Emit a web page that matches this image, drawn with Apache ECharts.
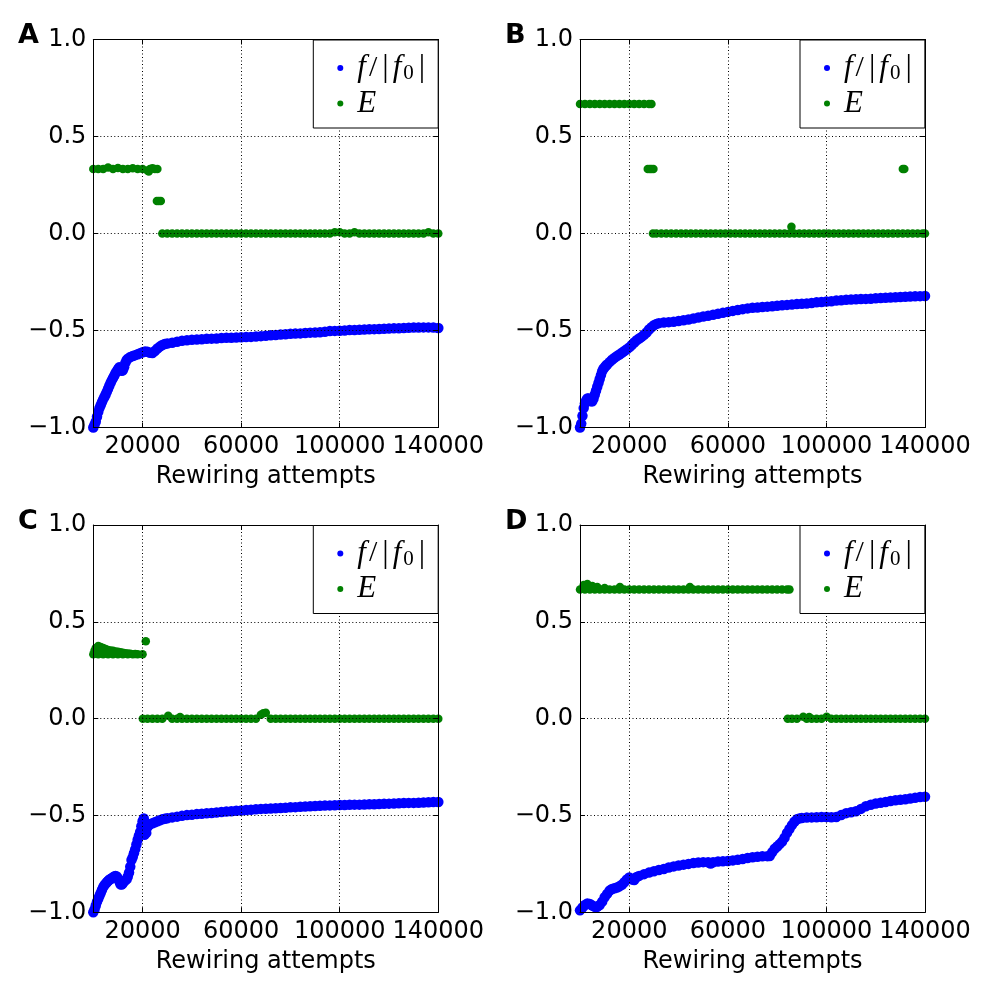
<!DOCTYPE html>
<html>
<head>
<meta charset="utf-8">
<script src="https://cdn.jsdelivr.net/npm/echarts@6/dist/echarts.min.js"></script>
<style>
  html, body { margin: 0; padding: 0; background: #fff; }
  #chart { width: 1000px; height: 1000px; }
</style>
</head>
<body>
<div id="chart"></div>
<script>
// tick positions
const xTicks = [20000, 60000, 100000, 140000]
const panelLetters = ['A', 'B', 'C', 'D']

// panel A
const fA = [
  [0, -1.0], [500, -0.985], [1000, -0.97], [1500, -0.945], [2000, -0.92], [2500, -0.9], [3000, -0.885],
  [3500, -0.87], [4000, -0.855], [4500, -0.843], [5000, -0.83], [5500, -0.815], [6000, -0.8], [6500, -0.785],
  [7000, -0.77], [7500, -0.757], [8000, -0.745], [8500, -0.733], [9000, -0.72], [9500, -0.71], [10000, -0.7],
  [10500, -0.69], [11000, -0.698], [11500, -0.708], [12000, -0.705], [12500, -0.69], [13000, -0.667],
  [13500, -0.653], [14000, -0.645], [15000, -0.637], [16000, -0.632], [17000, -0.627], [18000, -0.622],
  [19000, -0.617], [20000, -0.612], [21000, -0.608], [22000, -0.61], [23000, -0.615], [24000, -0.616],
  [25000, -0.606], [26000, -0.593], [27000, -0.583], [28000, -0.575], [29000, -0.57], [30000, -0.567],
  [32000, -0.563], [34000, -0.558], [36000, -0.553], [38000, -0.55], [40000, -0.548], [42000, -0.546],
  [44000, -0.545], [46000, -0.543], [48000, -0.542], [50000, -0.541], [52000, -0.539], [54000, -0.538],
  [56000, -0.537], [58000, -0.536], [60000, -0.535], [62000, -0.534], [64000, -0.533], [66000, -0.531],
  [68000, -0.529], [70000, -0.527], [72000, -0.525], [74000, -0.523], [76000, -0.521], [78000, -0.519],
  [80000, -0.517], [82000, -0.516], [84000, -0.515], [86000, -0.513], [88000, -0.511], [90000, -0.51],
  [92000, -0.509], [94000, -0.506], [96000, -0.503], [98000, -0.502], [100000, -0.501], [102000, -0.5],
  [104000, -0.498], [106000, -0.497], [108000, -0.496], [110000, -0.495], [112000, -0.494], [114000, -0.493],
  [116000, -0.492], [118000, -0.491], [120000, -0.49], [122000, -0.489], [124000, -0.488], [126000, -0.487],
  [128000, -0.486], [130000, -0.485], [132000, -0.485], [134000, -0.484], [136000, -0.484], [138000, -0.485],
  [140000, -0.487]
]
const eA = [
  [0, 0.333], [2000, 0.333], [4000, 0.333], [6000, 0.34], [8000, 0.333], [10000, 0.338], [12000, 0.333],
  [14000, 0.333], [16000, 0.336], [18000, 0.333], [20000, 0.333], [22000, 0.325], [22500, 0.32],
  [23000, 0.333], [24000, 0.336], [25000, 0.333], [26000, 0.333],
  [25800, 0.167], [26600, 0.167], [27400, 0.167],
  [28000, 0], [30000, 0], [32000, 0], [34000, 0], [36000, 0], [38000, 0], [40000, 0], [42000, 0],
  [44000, 0], [46000, 0], [48000, 0], [50000, 0], [52000, 0], [54000, 0], [56000, 0], [58000, 0],
  [60000, 0], [62000, 0], [64000, 0], [66000, 0], [68000, 0], [70000, 0], [72000, 0], [74000, 0],
  [76000, 0], [78000, 0], [80000, 0], [82000, 0], [84000, 0], [86000, 0], [88000, 0], [90000, 0],
  [92000, 0], [94000, 0], [96000, 0], [98000, 0.006], [100000, 0.006], [102000, 0], [104000, 0],
  [106000, 0.006], [108000, 0], [110000, 0], [112000, 0], [114000, 0], [116000, 0], [118000, 0],
  [120000, 0], [122000, 0], [124000, 0], [126000, 0], [128000, 0], [130000, 0], [132000, 0],
  [134000, 0], [136000, 0.006], [138000, 0], [140000, 0]
]

// panel B
const fB = [
  [0, -1.0], [500, -0.98], [1000, -0.94], [1500, -0.9], [2000, -0.875], [2500, -0.86], [3000, -0.85],
  [3500, -0.85], [4000, -0.855], [4500, -0.865], [5000, -0.865], [5500, -0.85], [6000, -0.83],
  [6500, -0.81], [7000, -0.79], [7500, -0.77], [8000, -0.75], [8500, -0.73], [9000, -0.71],
  [9500, -0.697], [10000, -0.69], [10500, -0.682], [11000, -0.675], [12000, -0.663], [13000, -0.651],
  [14000, -0.641], [15000, -0.632], [16000, -0.624], [17000, -0.615], [18000, -0.606], [19000, -0.597],
  [20000, -0.587], [21000, -0.575], [22000, -0.562], [23000, -0.55], [24000, -0.541], [25000, -0.533],
  [26000, -0.522], [27000, -0.51], [28000, -0.495], [29000, -0.483], [30000, -0.473], [31000, -0.466],
  [32000, -0.462], [34000, -0.459], [36000, -0.457], [38000, -0.455], [40000, -0.451], [42000, -0.447],
  [44000, -0.443], [46000, -0.438], [48000, -0.433], [50000, -0.428], [52000, -0.424], [54000, -0.419],
  [56000, -0.414], [58000, -0.409], [60000, -0.404], [62000, -0.399], [64000, -0.394], [66000, -0.39],
  [68000, -0.386], [70000, -0.383], [72000, -0.381], [74000, -0.379], [76000, -0.377], [78000, -0.375],
  [80000, -0.372], [82000, -0.37], [84000, -0.368], [86000, -0.366], [88000, -0.364], [90000, -0.362],
  [92000, -0.361], [94000, -0.358], [96000, -0.355], [98000, -0.353], [100000, -0.351], [102000, -0.349],
  [104000, -0.346], [106000, -0.344], [108000, -0.342], [110000, -0.34], [112000, -0.339], [114000, -0.338],
  [116000, -0.337], [118000, -0.336], [120000, -0.334], [122000, -0.333], [124000, -0.331], [126000, -0.33],
  [128000, -0.329], [130000, -0.327], [132000, -0.326], [134000, -0.325], [136000, -0.324], [138000, -0.323],
  [140000, -0.322]
]
const eB = [
  [0, 0.667], [2000, 0.667], [4000, 0.667], [6000, 0.667], [8000, 0.667], [10000, 0.667], [12000, 0.667],
  [14000, 0.667], [16000, 0.667], [18000, 0.667], [20000, 0.667], [22000, 0.667], [24000, 0.667],
  [26000, 0.667], [28000, 0.667], [29000, 0.667],
  [27500, 0.333], [28300, 0.333], [29000, 0.333], [29800, 0.333],
  [29600, 0], [31000, 0], [33000, 0], [35000, 0], [37000, 0], [39000, 0], [41000, 0], [43000, 0],
  [45000, 0], [47000, 0], [49000, 0], [51000, 0], [53000, 0], [55000, 0], [57000, 0], [59000, 0],
  [61000, 0], [63000, 0], [65000, 0], [67000, 0], [69000, 0], [71000, 0], [73000, 0], [75000, 0],
  [77000, 0], [79000, 0], [81000, 0], [83000, 0], [85000, 0], [85800, 0.035], [87000, 0], [89000, 0],
  [91000, 0], [93000, 0], [95000, 0], [97000, 0], [99000, 0], [101000, 0], [103000, 0], [105000, 0],
  [107000, 0], [109000, 0], [111000, 0], [113000, 0], [115000, 0], [117000, 0], [119000, 0], [121000, 0],
  [123000, 0], [125000, 0], [127000, 0], [129000, 0], [131000, 0], [133000, 0], [135000, 0], [137000, 0],
  [139000, 0], [140000, 0],
  [131000, 0.333], [131600, 0.333]
]

// panel C
const fC = [
  [0, -1.0], [500, -0.985], [1000, -0.965], [1500, -0.945], [2000, -0.93], [2500, -0.915], [3000, -0.9],
  [3500, -0.885], [4000, -0.87], [4500, -0.86], [5000, -0.852], [5500, -0.845], [6000, -0.838],
  [6500, -0.832], [7000, -0.828], [7500, -0.824], [8000, -0.82], [8500, -0.815], [9000, -0.812],
  [9500, -0.815], [10000, -0.825], [10500, -0.84], [11000, -0.855], [11500, -0.857], [12000, -0.85],
  [12500, -0.84], [13000, -0.835], [13500, -0.83], [14000, -0.815], [14500, -0.795], [15000, -0.765],
  [15500, -0.73], [16000, -0.715], [16500, -0.695], [17000, -0.675], [17500, -0.65], [18000, -0.625],
  [18500, -0.605], [19000, -0.585], [19500, -0.555], [20000, -0.53], [20500, -0.515], [20800, -0.6],
  [21000, -0.545], [21500, -0.59], [22000, -0.56], [22500, -0.55], [23000, -0.545], [24000, -0.54],
  [25000, -0.535], [26000, -0.53], [27000, -0.525], [28000, -0.52], [29000, -0.517], [30000, -0.514],
  [32000, -0.51], [34000, -0.506], [36000, -0.502], [38000, -0.498], [40000, -0.496], [42000, -0.493],
  [44000, -0.491], [46000, -0.489], [48000, -0.487], [50000, -0.485], [52000, -0.482], [54000, -0.48],
  [56000, -0.478], [58000, -0.476], [60000, -0.474], [62000, -0.472], [64000, -0.47], [66000, -0.468],
  [68000, -0.466], [70000, -0.465], [72000, -0.464], [74000, -0.463], [76000, -0.461], [78000, -0.46],
  [80000, -0.458], [82000, -0.457], [84000, -0.455], [86000, -0.454], [88000, -0.452], [90000, -0.451],
  [92000, -0.45], [94000, -0.449], [96000, -0.448], [98000, -0.447], [100000, -0.446], [102000, -0.446],
  [104000, -0.445], [106000, -0.444], [108000, -0.444], [110000, -0.443], [112000, -0.442], [114000, -0.442],
  [116000, -0.441], [118000, -0.44], [120000, -0.439], [122000, -0.438], [124000, -0.437], [126000, -0.436],
  [128000, -0.435], [130000, -0.435], [132000, -0.434], [134000, -0.433], [136000, -0.432], [138000, -0.431],
  [140000, -0.43]
]
const eC = [
  [0, 0.333], [2000, 0.333], [4000, 0.333], [6000, 0.333], [8000, 0.333], [10000, 0.333], [12000, 0.333],
  [14000, 0.333], [16000, 0.333], [18000, 0.333], [20000, 0.333],
  [500, 0.35], [1000, 0.365], [2000, 0.375], [3000, 0.37], [4000, 0.365], [5000, 0.36], [6000, 0.355],
  [7000, 0.352], [8000, 0.35], [9000, 0.347], [10000, 0.345], [11000, 0.343], [12000, 0.34],
  [13000, 0.338], [14000, 0.337], [15000, 0.335], [17000, 0.334],
  [21300, 0.4],
  [20100, 0], [22000, 0], [24000, 0], [26000, 0], [28000, 0], [30400, 0.015], [32000, 0], [34000, 0],
  [35200, 0.008], [36000, 0], [38000, 0], [40000, 0], [42000, 0], [44000, 0], [46000, 0], [48000, 0],
  [50000, 0], [52000, 0], [54000, 0], [56000, 0], [58000, 0], [60000, 0], [62000, 0], [64000, 0],
  [66000, 0], [68000, 0.02], [69000, 0.028], [70000, 0.03], [72000, 0], [74000, 0], [76000, 0],
  [78000, 0], [80000, 0], [82000, 0], [84000, 0], [86000, 0], [88000, 0], [90000, 0], [92000, 0],
  [94000, 0], [96000, 0], [98000, 0], [100000, 0], [102000, 0], [104000, 0], [106000, 0], [108000, 0],
  [110000, 0], [112000, 0], [114000, 0], [116000, 0], [118000, 0], [120000, 0], [122000, 0], [124000, 0],
  [126000, 0], [128000, 0], [130000, 0], [132000, 0], [134000, 0], [136000, 0], [138000, 0], [140000, 0]
]

// panel D
const fD = [
  [0, -0.99], [1000, -0.975], [2000, -0.962], [3000, -0.955], [4000, -0.957], [5000, -0.965],
  [6000, -0.972], [7000, -0.972], [8000, -0.962], [9000, -0.945], [10000, -0.922], [11000, -0.905],
  [12000, -0.888], [13000, -0.88], [14000, -0.876], [15000, -0.872], [16000, -0.866], [17000, -0.858],
  [18000, -0.845], [19000, -0.83], [20000, -0.82], [21000, -0.83], [22000, -0.833], [23000, -0.818],
  [24000, -0.812], [26000, -0.803], [28000, -0.795], [30000, -0.788], [32000, -0.782], [34000, -0.776],
  [36000, -0.769], [38000, -0.763], [40000, -0.758], [42000, -0.754], [44000, -0.75], [46000, -0.746],
  [48000, -0.743], [50000, -0.741], [52000, -0.742], [53000, -0.748], [54000, -0.742], [56000, -0.738],
  [58000, -0.737], [60000, -0.735], [62000, -0.732], [64000, -0.729], [66000, -0.725], [68000, -0.72],
  [70000, -0.716], [72000, -0.713], [74000, -0.711], [76000, -0.71], [77000, -0.709], [78000, -0.69],
  [79000, -0.672], [80000, -0.66], [81000, -0.648], [82000, -0.635], [83000, -0.615], [84000, -0.59],
  [85000, -0.57], [86000, -0.55], [87000, -0.532], [88000, -0.52], [89000, -0.515], [90000, -0.513],
  [92000, -0.511], [94000, -0.51], [96000, -0.509], [98000, -0.508], [100000, -0.508], [102000, -0.509],
  [104000, -0.508], [106000, -0.498], [108000, -0.488], [110000, -0.483], [112000, -0.478],
  [114000, -0.466], [116000, -0.452], [118000, -0.445], [120000, -0.438], [122000, -0.434],
  [124000, -0.43], [126000, -0.425], [128000, -0.422], [130000, -0.419], [132000, -0.416],
  [134000, -0.412], [136000, -0.409], [138000, -0.405], [140000, -0.403]
]
const eD = [
  [0, 0.667], [2000, 0.667], [4000, 0.667], [6000, 0.667], [8000, 0.667], [10000, 0.667], [12000, 0.667],
  [14000, 0.667], [16000, 0.667], [18000, 0.667], [20000, 0.667], [22000, 0.667], [24000, 0.667],
  [26000, 0.667], [28000, 0.667], [30000, 0.667], [32000, 0.667], [34000, 0.667], [36000, 0.667],
  [38000, 0.667], [40000, 0.667], [42000, 0.667], [44000, 0.667], [46000, 0.667], [48000, 0.667],
  [50000, 0.667], [52000, 0.667], [54000, 0.667], [56000, 0.667], [58000, 0.667], [60000, 0.667],
  [62000, 0.667], [64000, 0.667], [66000, 0.667], [68000, 0.667], [70000, 0.667], [72000, 0.667],
  [74000, 0.667], [76000, 0.667], [78000, 0.667], [80000, 0.667], [82000, 0.667], [84000, 0.667],
  [85000, 0.667],
  [1500, 0.69], [3000, 0.695], [5000, 0.685], [7000, 0.68], [10000, 0.675], [16200, 0.68], [44600, 0.68],
  [84300, 0], [86000, 0], [88000, 0], [90600, 0.01], [92000, 0], [93000, 0.008], [94000, 0], [96000, 0],
  [98000, 0], [100100, 0.01], [102000, 0], [104000, 0], [106000, 0], [108000, 0], [110000, 0],
  [112000, 0], [114000, 0], [116000, 0], [118000, 0], [120000, 0], [122000, 0], [124000, 0],
  [126000, 0], [128000, 0], [130000, 0], [132000, 0], [134000, 0], [136000, 0], [138000, 0], [140000, 0]
]

const fData = [fA, fB, fC, fD]
const eData = [eA, eB, eC, eD]

const chart = echarts.init(document.getElementById('chart'))

const boxes = [
  { left: 93.3, top: 39.5, height: 388 },
  { left: 580, top: 39.5, height: 388 },
  { left: 93.3, top: 525, height: 387.3 },
  { left: 580, top: 525, height: 387.3 }
]
const plotW = 345

const gridDash = { color: '#000', width: 1, type: [1, 2.5] }
const frame = { show: true, onZero: false, lineStyle: { color: '#000', width: 1 } }
const tick = { show: true, inside: true, length: 5, lineStyle: { color: '#000', width: 1 } }
const yFmt = v => (v < 0 ? '\u2212' : '') + Math.abs(v).toFixed(1)
const labelFont = { color: '#000', fontSize: 24, fontFamily: 'DejaVu Sans' }

const grid = []
const xAxis = []
const yAxis = []
const series = []
const legend = []
const title = []

boxes.forEach((b, i) => {
  grid.push({ left: b.left, top: b.top, width: plotW, height: b.height, containLabel: false })

  // axes sit above the marks, like the dotted grid in the original
  xAxis.push({
    type: 'value', gridIndex: i, min: 0, max: 140000, position: 'bottom', z: 3,
    axisLine: frame,
    axisTick: { ...tick, customValues: xTicks },
    axisLabel: {
      customValues: xTicks, showMaxLabel: true, hideOverlap: false, margin: 7,
      formatter: v => String(v), ...labelFont
    },
    splitLine: { show: true, lineStyle: gridDash },
    name: 'Rewiring attempts', nameLocation: 'middle', nameGap: 37,
    nameTextStyle: labelFont
  })
  xAxis.push({
    type: 'value', gridIndex: i, min: 0, max: 140000, position: 'top', z: 3,
    axisLine: frame,
    axisTick: { ...tick, customValues: xTicks },
    axisLabel: { show: false },
    splitLine: { show: false }
  })

  yAxis.push({
    type: 'value', gridIndex: i, min: -1, max: 1, interval: 0.5, position: 'left', z: 3,
    axisLine: frame,
    axisTick: tick,
    axisLabel: { formatter: yFmt, margin: 7, showMinLabel: true, showMaxLabel: true, ...labelFont },
    splitLine: { show: true, lineStyle: gridDash }
  })
  yAxis.push({
    type: 'value', gridIndex: i, min: -1, max: 1, interval: 0.5, position: 'right', z: 3,
    axisLine: frame,
    axisTick: tick,
    axisLabel: { show: false },
    splitLine: { show: false }
  })

  const letter = panelLetters[i]
  series.push({
    name: 'f' + letter, type: 'scatter', xAxisIndex: 2 * i, yAxisIndex: 2 * i,
    data: fData[i], symbol: 'circle', symbolSize: 10.5,
    itemStyle: { color: '#0000ff', opacity: 1 }
  })
  series.push({
    name: 'E' + letter, type: 'scatter', xAxisIndex: 2 * i, yAxisIndex: 2 * i,
    data: eData[i], symbol: 'circle', symbolSize: 8.5,
    itemStyle: { color: '#008000', opacity: 1 }
  })

  legend.push({
    data: ['f' + letter, 'E' + letter],
    orient: 'vertical',
    left: b.left + 220,
    top: b.top + 0.5,
    z: 5,
    icon: 'circle',
    itemWidth: 20,
    itemHeight: 6,
    itemGap: 4,
    padding: [12, 12, 9, 24],
    borderColor: '#000',
    borderWidth: 1,
    borderRadius: 0,
    backgroundColor: '#fff',
    selectedMode: false,
    formatter: name => name[0] === 'f'
      ? '{i|f}{n|/}{b||}{j|f}{s|0}{b||}'
      : '{i|E}',
    textStyle: {
      color: '#000', fontFamily: 'Liberation Serif', fontSize: 30, lineHeight: 30,
      rich: {
        i: { fontFamily: 'Liberation Serif', fontStyle: 'italic', fontSize: 31, color: '#000', padding: [0, 3, 0, 2] },
        j: { fontFamily: 'Liberation Serif', fontStyle: 'italic', fontSize: 31, color: '#000', padding: [0, 1, 0, 3] },
        n: { fontFamily: 'Liberation Serif', fontSize: 30, color: '#000', padding: [0, 4, 0, 0] },
        b: { fontFamily: 'Liberation Serif', fontSize: 32, color: '#000', padding: [0, 1, 0, 1] },
        s: { fontFamily: 'Liberation Serif', fontSize: 21, color: '#000', padding: [11, 4, 0, 1] }
      }
    }
  })

  title.push({
    text: letter,
    left: i % 2 === 0 ? 18 : 505,
    top: b.top - 17,
    padding: 0,
    textStyle: { fontFamily: 'DejaVu Sans', fontWeight: 'bold', fontSize: 27, color: '#000' }
  })
})

chart.setOption({
  animation: false,
  backgroundColor: '#fff',
  title,
  grid,
  xAxis,
  yAxis,
  legend,
  series
})
</script>
</body>
</html>
